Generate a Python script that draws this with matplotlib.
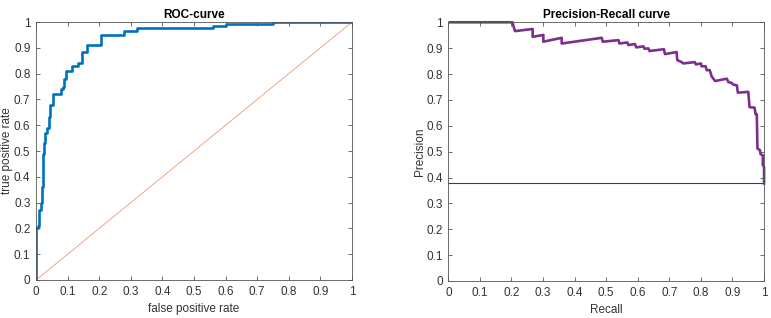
import numpy as np
import matplotlib.pyplot as plt

plt.rcParams['font.family'] = ['Liberation Sans', 'DejaVu Sans']

# ROC curve (staircase levels)
roc_fpr = [0, 0, 0.005, 0.008, 0.015, 0.020, 0.022, 0.025, 0.028, 0.034, 0.040,
           0.045, 0.055, 0.079, 0.086, 0.090, 0.096, 0.113, 0.132, 0.147, 0.160,
           0.205, 0.28, 0.318, 0.56, 0.60, 0.75, 1.0]
roc_tpr = [0, 0.20, 0.21, 0.27, 0.30, 0.36, 0.49, 0.53, 0.57, 0.59, 0.63,
           0.68, 0.72, 0.74, 0.75, 0.78, 0.81, 0.83, 0.84, 0.885, 0.91,
           0.95, 0.965, 0.975, 0.985, 0.993, 1.0, 1.0]

# Precision-recall curve vertices
pr_recall = [0.005, 0.203, 0.211, 0.267, 0.267, 0.301, 0.301, 0.359, 0.359, 0.486,
             0.489, 0.539, 0.542, 0.567, 0.570, 0.591, 0.595, 0.618, 0.621, 0.634,
             0.637, 0.683, 0.686, 0.723, 0.725, 0.739, 0.744, 0.781, 0.784, 0.800,
             0.802, 0.815, 0.818, 0.828, 0.834, 0.845, 0.882, 0.887, 0.898, 0.901,
             0.914, 0.917, 0.950, 0.954, 0.970, 0.973, 0.977, 0.979, 0.987, 0.989,
             0.996, 0.996, 1.0, 1.0]
pr_prec = [1.0, 1.0, 0.966, 0.974, 0.944, 0.951, 0.925, 0.940, 0.918, 0.940,
           0.925, 0.931, 0.918, 0.922, 0.912, 0.916, 0.903, 0.907, 0.898, 0.899,
           0.889, 0.896, 0.877, 0.885, 0.854, 0.846, 0.841, 0.846, 0.837, 0.841,
           0.830, 0.830, 0.815, 0.815, 0.791, 0.773, 0.782, 0.769, 0.765, 0.760,
           0.756, 0.728, 0.731, 0.672, 0.670, 0.645, 0.645, 0.512, 0.506, 0.490,
           0.486, 0.448, 0.441, 0.377]
baseline_prec = 0.377

ticks = np.round(np.arange(0, 1.01, 0.1), 1)
tick_labels = ['0', '0.1', '0.2', '0.3', '0.4', '0.5', '0.6', '0.7', '0.8', '0.9', '1']

fig = plt.figure(figsize=(7.71, 3.18), dpi=100)
ax1 = fig.add_axes([0.0467, 0.1195, 0.4099, 0.8113])
ax2 = fig.add_axes([0.5815, 0.1164, 0.4095, 0.8135])

for ax in (ax1, ax2):
    ax.set_xlim(0, 1)
    ax.set_ylim(0, 1)
    ax.set_xticks(ticks)
    ax.set_xticklabels(tick_labels)
    ax.set_yticks(ticks)
    ax.set_yticklabels(tick_labels)
    ax.tick_params(direction='in', length=3, width=0.5, colors='#333333',
                   labelsize=8.5, top=True, right=True, pad=4)
    for s in ax.spines.values():
        s.set_color('#555555')
        s.set_linewidth(0.6)

# --- ROC ---
ax1.plot([0, 1], [0, 1], color='#D95319', linewidth=0.5, alpha=0.7)
ax1.plot(roc_fpr, roc_tpr, drawstyle='steps-post', color='#0072BD', linewidth=1.9)
ax1.set_title('ROC-curve', fontsize=8.5, fontweight='bold', pad=3)
ax1.set_xlabel('false positive rate', fontsize=8.5, color='#333333', labelpad=4)
ax1.set_ylabel('true positive rate', fontsize=8.5, color='#333333')
ax1.yaxis.set_label_coords(-0.072, 0.5)

# --- Precision-Recall ---
ax2.axhline(baseline_prec, color='#404040', linewidth=0.8)
ax2.plot(pr_recall, pr_prec, color='#7E2F8E', linewidth=1.9, clip_on=False)
ax2.set_title('Precision-Recall curve', fontsize=8.5, fontweight='bold', pad=3)
ax2.set_xlabel('Recall', fontsize=8.5, color='#333333', labelpad=4)
ax2.set_ylabel('Precision', fontsize=8.5, color='#333333')
ax2.yaxis.set_label_coords(-0.072, 0.5)

fig.savefig('out.png', dpi=100)
